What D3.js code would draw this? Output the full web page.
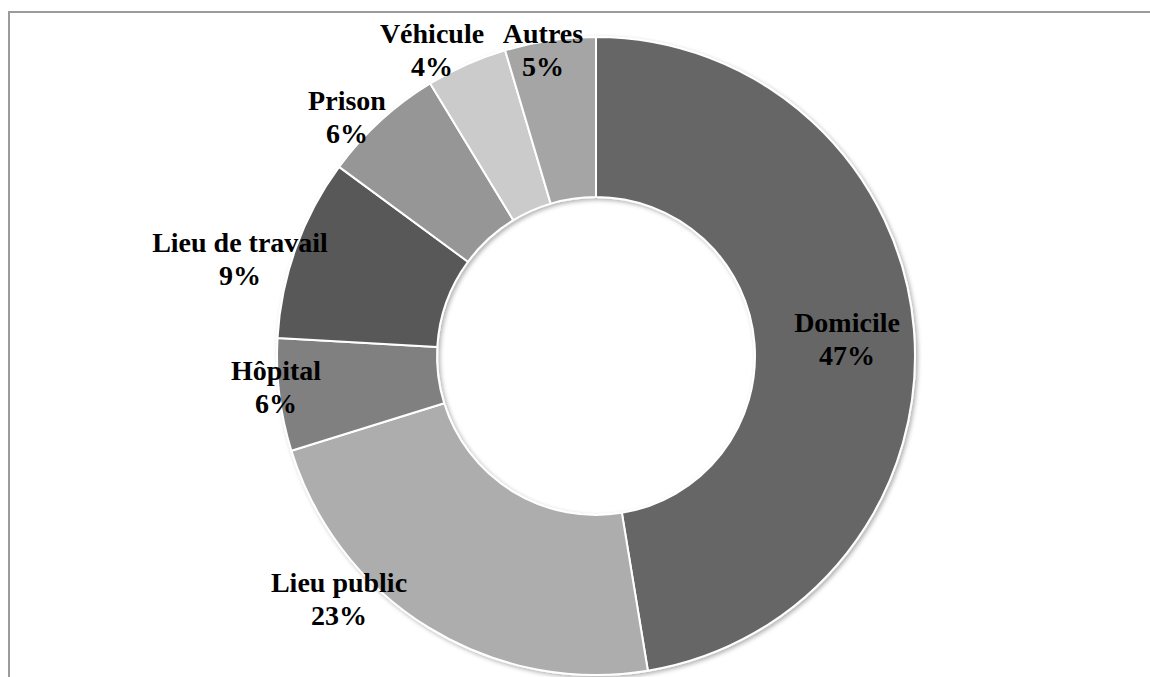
<!DOCTYPE html>
<html>
<head>
<meta charset="utf-8">
<script src="https://cdn.jsdelivr.net/npm/d3@7"></script>
<style>
  body { margin: 0; background: #fff; }
  svg { display: block; }
  .label { font-family: "Liberation Serif", "DejaVu Serif", serif; font-weight: bold; font-size: 28px; fill: #000; }
</style>
</head>
<body>
<div id="chartid"></div>
<script>
/***** data *****/
var categories = ["Domicile", "Lieu public", "Hôpital", "Lieu de travail", "Prison", "Véhicule", "Autres"];
var values = [47.4, 22.8, 5.7, 9.2, 6.2, 4.1, 4.6];
var shades = ["#666666", "#adadad", "#808080", "#595959", "#969696", "#cbcbcb", "#a5a5a5"];

// label placement (offset of the text block from the donut centre)
var labelOffsets = [[251, -16], [-257, 244], [-320, 32], [-356, -96], [-249, -238], [-164, -305], [-53, -305]];

//chart parameters
var width = 1150;
var height = 677;
var cx = 596, cy = 356;
var outerRad = 319;
var innerRad = 159;

var data = categories.map(function(c, i){
  return {name: c, value: values[i], color: shades[i], offset: labelOffsets[i]};
});

//create svg
var svg = d3.select("div#chartid")
  .append("svg")
  .attr("width", width)
  .attr("height", height)
;

//soft shadow around the ring
var defs = svg.append("defs");
var shadow = defs.append("filter")
  .attr("id", "shadow")
  .attr("x", "-10%").attr("y", "-10%")
  .attr("width", "120%").attr("height", "120%");
shadow.append("feDropShadow")
  .attr("dx", 2).attr("dy", 2)
  .attr("stdDeviation", 2)
  .attr("flood-color", "#000")
  .attr("flood-opacity", 0.3);

//frame (left and top edges of the chart area)
svg.append("path")
  .attr("d", "M9," + height + "V12H" + width)
  .attr("fill", "none")
  .attr("stroke", "#9b9b9b")
  .attr("stroke-width", 2)
;

var pie = d3.pie()
  .sort(null)
  .value(function(d){ return d.value; })
;

var arc = d3.arc()
  .innerRadius(innerRad)
  .outerRadius(outerRad)
;

var g = svg.append("g")
  .attr("transform", "translate(" + cx + "," + cy + ")")
;

g.append("g")
  .attr("filter", "url(#shadow)")
  .selectAll("path")
  .data(pie(data))
  .enter()
  .append("path")
  .attr("d", arc)
  .attr("fill", function(d){ return d.data.color; })
  .attr("stroke", "#fff")
  .attr("stroke-width", 2)
  .attr("stroke-linejoin", "round")
;

//labels
var fmt = function(v){ return Math.round(v) + "%"; };

var labels = g.selectAll("text.label")
  .data(data)
  .enter()
  .append("text")
  .attr("class", "label")
  .attr("text-anchor", "middle")
  .attr("transform", function(d){ return "translate(" + d.offset[0] + "," + d.offset[1] + ")"; })
;
labels.append("tspan")
  .attr("x", 0)
  .attr("y", -8)
  .text(function(d){ return d.name; })
;
labels.append("tspan")
  .attr("x", 0)
  .attr("y", 25)
  .text(function(d){ return fmt(d.value); })
;
</script>
</body>
</html>
